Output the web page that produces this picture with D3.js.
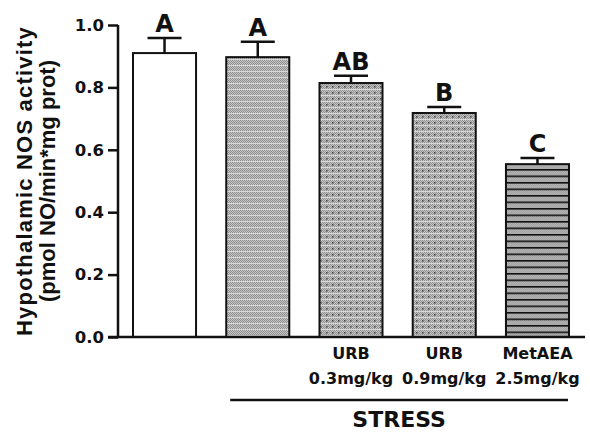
<!DOCTYPE html>
<html><head><meta charset="utf-8">
<script src="https://cdn.jsdelivr.net/npm/d3@7"></script>
<style>html,body{margin:0;padding:0;background:#fff;}svg{display:block;font-family:"Liberation Sans",Arial,sans-serif;}</style>
</head><body>
<svg id="chart" width="590" height="433"></svg>
<script>
// ---- data ----
const groups = ["Control", "Stress", "URB 0.3", "URB 0.9", "MetAEA"];
const labelLine1 = ["", "", "URB", "URB", "MetAEA"];
const labelLine2 = ["", "", "0.3mg/kg", "0.9mg/kg", "2.5mg/kg"];
const means = [0.910, 0.897, 0.814, 0.718, 0.554];
const sems = [0.048, 0.049, 0.023, 0.019, 0.020];
const letters = ["A", "A", "AB", "B", "C"];
const yTicks = [0, 0.2, 0.4, 0.6, 0.8, 1.0];
const bracketGroups = ["Stress", "MetAEA"];
const bracketLabel = "STRESS";
const yTitle1 = "Hypothalamic NOS activity";
const yTitle2 = "(pmol NO/min*mg prot)";

// ---- drawing ----
const svg = d3.select("#chart");
const wide = "DejaVu Sans, sans-serif";
const x = d3.scaleBand().domain(groups).range([118, 584]).paddingInner(0.324).paddingOuter(0.161);
const y = d3.scaleLinear().domain([0, 1]).range([337, 25]);
const fillFor = d3.scaleOrdinal().domain(groups).range(["#fff", "url(#pChecker)", "url(#pDots)", "url(#pDots)", "url(#pStripes)"]);

const defs = svg.append("defs");
function checkerBase(p, w, h) {
  p.append("rect").attr("width", w).attr("height", h).attr("fill", "#c6c6c6");
  for (let i = 0; i < w; i++) for (let j = 0; j < h; j++) {
    if ((i + j) % 2 === 0) p.append("rect").attr("x", i).attr("y", j).attr("width", 1).attr("height", 1).attr("fill", "#8f8f8f");
  }
}
const pc = defs.append("pattern").attr("id", "pChecker").attr("patternUnits", "userSpaceOnUse").attr("width", 6).attr("height", 6);
checkerBase(pc, 6, 6);
pc.append("rect").attr("x", 0).attr("y", 5).attr("width", 6).attr("height", 1).attr("fill", "#d8d8d8");
const pd = defs.append("pattern").attr("id", "pDots").attr("patternUnits", "userSpaceOnUse").attr("width", 6).attr("height", 6);
checkerBase(pd, 6, 6);
pd.append("rect").attr("x", 0).attr("y", 5).attr("width", 6).attr("height", 1).attr("fill", "#d8d8d8");
pd.append("rect").attr("x", 2).attr("y", 2).attr("width", 1.5).attr("height", 1.5).attr("fill", "#444");
const ps = defs.append("pattern").attr("id", "pStripes").attr("patternUnits", "userSpaceOnUse").attr("width", 6).attr("height", 6.5);
checkerBase(ps, 6, 7);
ps.append("rect").attr("x", 0).attr("y", 0).attr("width", 6).attr("height", 1.6).attr("fill", "#111");

// bars
svg.append("g").selectAll("rect").data(groups).join("rect")
  .attr("x", d => x(d)).attr("y", (d, i) => y(means[i]))
  .attr("width", x.bandwidth()).attr("height", (d, i) => y(0) - y(means[i]))
  .attr("fill", d => fillFor(d)).attr("stroke", "#111").attr("stroke-width", 2);

// error bars (upper only)
const eg = svg.append("g").attr("stroke", "#111").attr("stroke-width", 2.5);
groups.forEach((g, i) => {
  const cx = x(g) + x.bandwidth() / 2;
  eg.append("line").attr("x1", cx).attr("x2", cx).attr("y1", y(means[i])).attr("y2", y(means[i] + sems[i]));
  eg.append("line").attr("x1", cx - 17).attr("x2", cx + 17).attr("y1", y(means[i] + sems[i])).attr("y2", y(means[i] + sems[i]));
});

// letters
svg.append("g").selectAll("text").data(groups).join("text")
  .attr("x", d => x(d) + x.bandwidth() / 2)
  .attr("y", (d, i) => y(means[i] + sems[i]) - 6)
  .attr("text-anchor", "middle").attr("font-weight", "bold").attr("font-size", 24).attr("font-family", wide).attr("fill", "#111")
  .text((d, i) => letters[i]);

// y axis
const yAxis = d3.axisLeft(y).tickValues(yTicks).tickFormat(d3.format(".1f")).tickSize(10).tickPadding(4);
const ya = svg.append("g").attr("transform", "translate(118,0)").call(yAxis);
ya.select(".domain").attr("stroke", "#111").attr("stroke-width", 2.5).attr("d", `M0,${y(1)}V${y(0)}`);
ya.selectAll(".tick line").attr("stroke", "#111").attr("stroke-width", 2.5);
ya.selectAll(".tick text").attr("font-size", 16.5).attr("font-weight", "bold").attr("fill", "#111")
  .attr("font-family", wide);

// x axis line
svg.append("line").attr("x1", 108).attr("x2", 585).attr("y1", y(0)).attr("y2", y(0))
  .attr("stroke", "#111").attr("stroke-width", 2.5);

// category labels
const lg = svg.append("g").attr("font-weight", "bold").attr("font-size", 16).attr("font-family", wide).attr("text-anchor", "middle").attr("fill", "#111");
lg.selectAll("text.l1").data(groups).join("text").attr("class", "l1")
  .attr("x", d => x(d) + x.bandwidth() / 2).attr("y", 359).text((d, i) => labelLine1[i]);
lg.selectAll("text.l2").data(groups).join("text").attr("class", "l2")
  .attr("x", d => x(d) + x.bandwidth() / 2).attr("y", 384).text((d, i) => labelLine2[i]);

// STRESS bracket
const bx1 = x(bracketGroups[0]) + 4, bx2 = x(bracketGroups[1]) + x.bandwidth() - 1;
svg.append("line").attr("x1", bx1).attr("x2", bx2).attr("y1", 400).attr("y2", 400).attr("stroke", "#111").attr("stroke-width", 2.5);
svg.append("text").attr("x", (bx1 + bx2) / 2).attr("y", 427).attr("text-anchor", "middle")
  .attr("font-weight", "bold").attr("font-size", 22).attr("font-family", wide).attr("fill", "#111").text(bracketLabel);

// y title
const yc = (y(0) + y(1)) / 2;
svg.append("text").attr("transform", `translate(32,${yc}) rotate(-90)`).attr("text-anchor", "middle")
  .attr("font-weight", "bold").attr("font-size", 22).attr("letter-spacing", 1.2).attr("fill", "#111").text(yTitle1);
svg.append("text").attr("transform", `translate(55,${yc}) rotate(-90)`).attr("text-anchor", "middle")
  .attr("font-weight", "bold").attr("font-size", 22).attr("fill", "#111").text(yTitle2);
</script>
</body></html>
